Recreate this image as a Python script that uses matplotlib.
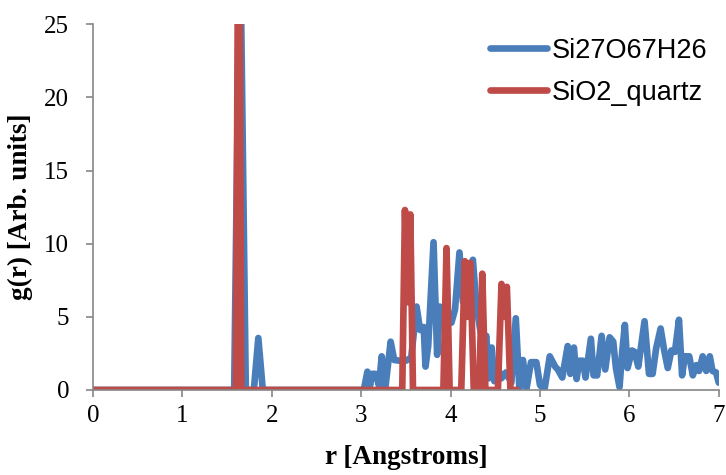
import matplotlib
matplotlib.use("Agg")
import matplotlib.pyplot as plt

# Si27O67H26 pair distribution
blue_r = [0.0, 1.58, 1.645, 1.71, 1.80, 1.85, 1.90, 3.03, 3.07, 3.10, 3.12, 3.16,
          3.20, 3.23, 3.27, 3.33, 3.37, 3.43, 3.50, 3.56, 3.62, 3.66, 3.70, 3.72,
          3.75, 3.81, 3.85, 3.88, 3.92, 3.97, 4.01, 4.05, 4.10, 4.14, 4.18, 4.25,
          4.29, 4.33, 4.37, 4.40, 4.43, 4.46, 4.49, 4.53, 4.57, 4.62, 4.68, 4.73,
          4.77, 4.81, 4.85, 4.90, 4.96, 5.00, 5.05, 5.11, 5.17, 5.20, 5.25, 5.31,
          5.34, 5.38, 5.41, 5.44, 5.48, 5.51, 5.57, 5.60, 5.64, 5.69, 5.73, 5.78,
          5.82, 5.85, 5.89, 5.92, 5.95, 5.98, 6.03, 6.06, 6.10, 6.17, 6.22, 6.26,
          6.30, 6.35, 6.39, 6.43, 6.47, 6.51, 6.555, 6.59, 6.62, 6.67, 6.71, 6.75,
          6.78, 6.82, 6.86, 6.90, 6.93, 6.97, 7.0]
blue_g = [0.0, 0.0, 32.0, 0.0, 0.0, 3.55, 0.0, 0.0, 1.25, 0.3, 1.1, 1.1,
          0.3, 2.3, 0.1, 3.3, 2.05, 2.0, 2.0, 2.2, 5.7, 4.1, 4.3, 1.6,
          3.0, 10.1, 2.4, 5.7, 5.5, 5.2, 4.6, 5.5, 9.4, 6.0, 7.0, 8.9,
          5.7, 4.2, 3.0, 3.7, 0.8, 2.9, 0.6, 1.5, 0.8, 1.2, 0.5, 4.9,
          0.1, 2.05, 0.1, 1.9, 1.9, 0.35, 0.0, 2.3, 1.6, 1.4, 0.85, 3.0,
          1.1, 2.9, 0.75, 2.0, 2.0, 0.85, 3.5, 1.0, 1.0, 3.7, 1.4, 3.6,
          3.3, 1.5, 0.2, 2.6, 4.45, 1.5, 2.7, 2.6, 1.6, 4.7, 1.1, 1.1,
          2.85, 4.2, 2.7, 1.5, 2.7, 2.6, 4.8, 1.0, 2.3, 2.3, 1.0, 1.7,
          1.3, 2.3, 1.3, 2.3, 1.3, 1.2, 0.5]

# SiO2 quartz reference
red_r = [0.0, 1.60, 1.63, 1.66, 3.46, 3.49, 3.52, 3.55, 3.58, 3.92, 3.955, 3.99,
         4.12, 4.16, 4.19, 4.22, 4.26, 4.32, 4.355, 4.39, 4.53, 4.57, 4.60, 4.63,
         4.67, 4.77]
red_g = [0.0, 0.0, 40.0, 0.0, 0.0, 12.3, 6.0, 12.0, 0.0, 0.0, 9.7, 0.0,
         0.0, 8.8, 5.0, 8.7, 0.0, 0.0, 7.95, 0.0, 0.0, 7.25, 5.0, 7.05,
         0.0, 0.0]

blue_label = "Si27O67H26"
red_label = "SiO2_quartz"

x_ticks = [0, 1, 2, 3, 4, 5, 6, 7]
y_ticks = [0, 5, 10, 15, 20, 25]

axis_grey = "#868686"
serif = ["Liberation Serif", "DejaVu Serif"]
sans = ["Liberation Sans", "DejaVu Sans"]

fig = plt.figure(figsize=(7.26, 4.75), dpi=100)
ax = fig.add_axes([0.128, 0.179, 0.862, 0.770])

ax.plot(blue_r, blue_g, color="#4A7EBB", linewidth=4.8, solid_joinstyle="round",
        solid_capstyle="round", label=blue_label)
ax.plot(red_r, red_g, color="#BE4B48", linewidth=4.8, solid_joinstyle="round",
        solid_capstyle="butt", label=red_label)

ax.set_xlim(0, 7)
ax.set_ylim(0, 25)
ax.set_xticks(x_ticks)
ax.set_yticks(y_ticks)

for side in ["top", "right"]:
    ax.spines[side].set_visible(False)
for side in ["left", "bottom"]:
    ax.spines[side].set_color(axis_grey)
    ax.spines[side].set_linewidth(1.2)

ax.tick_params(direction="out", length=5, width=1.2, color=axis_grey, labelsize=18)
ax.tick_params(axis="y", pad=12)
ax.tick_params(axis="x", pad=6)
for lab in ax.get_xticklabels() + ax.get_yticklabels():
    lab.set_family(serif)

ax.set_xlabel("r [Angstroms]", fontsize=19.5, fontweight="bold", family=serif, labelpad=13)
ax.set_ylabel("g(r) [Arb. units]", fontsize=19.5, fontweight="bold", family=serif, labelpad=8)

leg = ax.legend(loc="upper right", bbox_to_anchor=(1.02, 1.03), frameon=False,
                prop={"family": sans, "size": 19.5}, handlelength=2.1,
                handletextpad=0.15, labelspacing=0.6)
for line in leg.get_lines():
    line.set_solid_capstyle("round")

fig.savefig("out.png", dpi=100)
